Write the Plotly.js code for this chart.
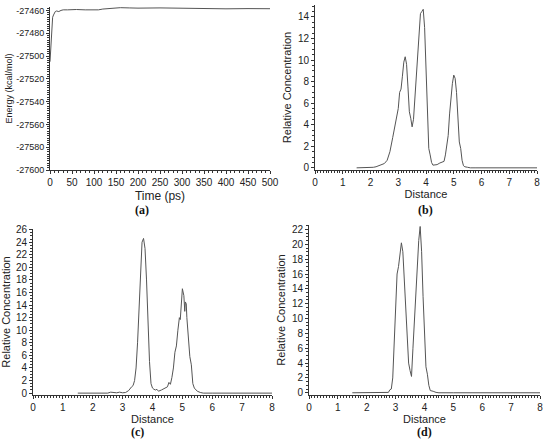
<!DOCTYPE html>
<html>
<head>
<meta charset="utf-8">
<script src="https://cdn.plot.ly/plotly-3.0.1.min.js"></script>
<style>html,body{margin:0;padding:0;background:#fff;}#chart{width:550px;height:444px;}</style>
</head>
<body>
<div id="chart"></div>
<script>
// Panel (a): energy vs time
const timeA = [0,1,2,3,4,5,6,8,10,12,15,20,25,30,40,50,60,80,100,110,120,140,160,180,200,250,300,350,400,450,500];
const energyA = [-27505,-27498,-27488,-27478,-27471,-27468,-27466,-27464,-27462,-27461,-27460.5,-27461,-27460,-27459.5,-27459.5,-27459.3,-27459.2,-27459.5,-27459.8,-27459.5,-27458.8,-27458,-27457.6,-27457.8,-27458,-27457.8,-27458.2,-27458.5,-27458.6,-27458.4,-27458.5];

// Panel (b)
const distB = [1.5,1.6,1.7,1.8,1.9,2.0,2.1,2.2,2.3,2.4,2.5,2.6,2.7,2.8,2.9,3.0,3.05,3.1,3.15,3.2,3.25,3.3,3.35,3.4,3.45,3.5,3.55,3.6,3.65,3.7,3.75,3.8,3.85,3.9,3.95,4.0,4.05,4.1,4.15,4.2,4.25,4.3,4.4,4.5,4.6,4.65,4.7,4.75,4.8,4.85,4.9,4.95,5.0,5.05,5.1,5.15,5.2,5.25,5.3,5.35,5.4,5.5,5.6,5.8,6.0,6.5,7.0,7.5,8.0];
const concB = [0,0,0,0,0,0,0.05,0.1,0.2,0.3,0.4,0.7,1.5,2.8,4.0,5.5,7.0,7.3,8.5,9.8,10.3,9.6,7.5,5.2,4.6,3.8,4.5,6.5,9.0,10.8,12.0,14.3,14.5,14.7,13.0,9.0,5.0,1.8,1.2,0.5,0.25,0.25,0.3,0.45,0.55,0.6,1.2,2.2,3.0,5.0,6.5,7.8,8.6,8.3,7.0,5.0,2.4,1.8,0.7,0.2,0.1,0.05,0,0,0,0,0,0,0];

// Panel (c)
const distC = [1.5,1.8,2.0,2.2,2.4,2.5,2.6,2.7,2.8,2.9,3.0,3.1,3.2,3.3,3.35,3.4,3.45,3.5,3.55,3.6,3.65,3.7,3.75,3.8,3.85,3.9,3.95,4.0,4.05,4.1,4.15,4.2,4.3,4.4,4.5,4.55,4.6,4.65,4.7,4.75,4.8,4.85,4.9,4.93,4.95,5.0,5.05,5.08,5.1,5.13,5.15,5.2,5.25,5.3,5.35,5.4,5.5,5.6,5.7,6.0,6.5,7.0,7.5,8.0];
const concC = [0,0,0,0,0,0,0.15,0.05,0.05,0.15,0.05,0.1,0.4,1.0,1.2,2.0,4.0,8.0,13.0,19.0,24.0,24.6,23.0,18.0,11.0,5.0,1.5,0.8,0.6,0.5,0.6,0.3,0.5,0.8,1.0,1.7,1.4,2.5,4.0,6.5,7.5,10.0,12.0,11.7,13.0,16.6,15.5,13.0,14.5,14.2,12.0,9.0,5.8,4.5,1.5,0.8,0.3,0.1,0,0,0,0,0,0];

// Panel (d)
const distD = [1.5,1.8,2.0,2.2,2.4,2.6,2.75,2.8,2.85,2.9,2.95,3.0,3.05,3.1,3.15,3.2,3.25,3.3,3.35,3.4,3.45,3.5,3.55,3.6,3.65,3.7,3.75,3.8,3.85,3.9,3.95,4.0,4.05,4.1,4.15,4.2,4.25,4.3,4.4,4.5,5.0,5.5,6.0,6.5,7.0,7.5,8.0];
const concD = [0,0,0,0,0,0,0.05,0.4,0.5,2.0,7.0,12.0,16.0,17.0,19.0,20.2,19.0,15.0,10.0,6.0,4.0,3.0,2.2,6.0,10.0,13.0,17.0,20.5,22.4,19.0,13.0,7.0,3.5,2.5,1.0,0.3,0.2,0.2,0.05,0,0,0,0,0,0,0,0];

const panelLabels = ['(a)','(b)','(c)','(d)'];

const lineStyle = {color:'#555555', width:1};
const traces = [
  {x:timeA, y:energyA, xaxis:'x', yaxis:'y', mode:'lines', line:lineStyle},
  {x:distB, y:concB, xaxis:'x2', yaxis:'y2', mode:'lines', line:lineStyle},
  {x:distC, y:concC, xaxis:'x3', yaxis:'y3', mode:'lines', line:lineStyle},
  {x:distD, y:concD, xaxis:'x4', yaxis:'y4', mode:'lines', line:lineStyle}
];

const tickFont = {family:'Liberation Sans, Arial, sans-serif', size:10, color:'#222'};
function ax(extra){
  return Object.assign({
    showgrid:false, zeroline:false, showline:true, linecolor:'#333', linewidth:1,
    ticks:'outside', ticklen:3, tickcolor:'#333', tickfont:tickFont,
  }, extra);
}
const ttlFont = {family:'Liberation Sans, Arial, sans-serif', size:11, color:'#222'};

const layout = {
  width:550, height:444,
  margin:{l:0,r:0,t:0,b:0},
  paper_bgcolor:'#fff', plot_bgcolor:'#fff',
  showlegend:false,
  xaxis: ax({domain:[50/550,270/550], anchor:'y', range:[0,500], dtick:50,
    minor:{ticks:'outside', dtick:10, ticklen:2, tickcolor:'#333'},
    title:{text:'Time (ps)', font:{family:'Liberation Sans, Arial, sans-serif', size:12, color:'#222'}, standoff:4}}),
  yaxis: ax({domain:[1-170/444,1-7/444], anchor:'x', range:[-27600,-27457],
    tickvals:[-27600,-27580,-27560,-27540,-27520,-27500,-27480,-27460],
    ticktext:['-27600','-27580','-27560','-27540','-27520','-27500','-27480','-27460'],
    tickfont:{family:'Liberation Sans, Arial, sans-serif', size:9, color:'#222'},
    minor:{ticks:'outside', dtick:2, ticklen:2, tickcolor:'#333'},
    title:{text:'Energy (kcal/mol)', font:{family:'Liberation Sans, Arial, sans-serif', size:9, color:'#222'}, standoff:2}}),
  xaxis2: ax({domain:[315/550,537/550], anchor:'y2', range:[0,8], dtick:1,
    minor:{ticks:'outside', dtick:0.1, ticklen:2, tickcolor:'#333'},
    title:{text:'Distance', font:ttlFont, standoff:2}}),
  yaxis2: ax({domain:[1-170/444,1-5/444], anchor:'x2', range:[-0.2,15.1], dtick:2,
    minor:{ticks:'outside', dtick:0.5, ticklen:2, tickcolor:'#333'},
    title:{text:'Relative Concentration', font:ttlFont, standoff:4}}),
  xaxis3: ax({domain:[33/550,272/550], anchor:'y3', range:[0,8], dtick:1,
    minor:{ticks:'outside', dtick:0.1, ticklen:2, tickcolor:'#333'},
    title:{text:'Distance', font:ttlFont, standoff:2}}),
  yaxis3: ax({domain:[1-395/444,1-229/444], anchor:'x3', range:[-0.3,26.1], dtick:2,
    minor:{ticks:'outside', dtick:0.5, ticklen:2, tickcolor:'#333'},
    title:{text:'Relative Concentration', font:ttlFont, standoff:4}}),
  xaxis4: ax({domain:[309/550,540/550], anchor:'y4', range:[0,8], dtick:1,
    minor:{ticks:'outside', dtick:0.1, ticklen:2, tickcolor:'#333'},
    title:{text:'Distance', font:ttlFont, standoff:0}}),
  yaxis4: ax({domain:[1-395/444,1-225/444], anchor:'x4', range:[-0.3,22.6], dtick:2,
    minor:{ticks:'outside', dtick:0.5, ticklen:2, tickcolor:'#333'},
    title:{text:'Relative Concentration', font:ttlFont, standoff:4}}),
  annotations: [
    {text:panelLabels[0], x:142/550, y:1-210/444},
    {text:panelLabels[1], x:425/550, y:1-210/444},
    {text:panelLabels[2], x:137/550, y:1-432/444},
    {text:panelLabels[3], x:424/550, y:1-432/444}
  ].map(a => Object.assign({xref:'paper', yref:'paper', showarrow:false, xanchor:'center', yanchor:'middle',
    font:{family:'Liberation Serif, DejaVu Serif, serif', size:12, color:'#111', weight:'bold'}}, a))
};

Plotly.newPlot('chart', traces, layout, {staticPlot:true, displayModeBar:false});
</script>
</body>
</html>
